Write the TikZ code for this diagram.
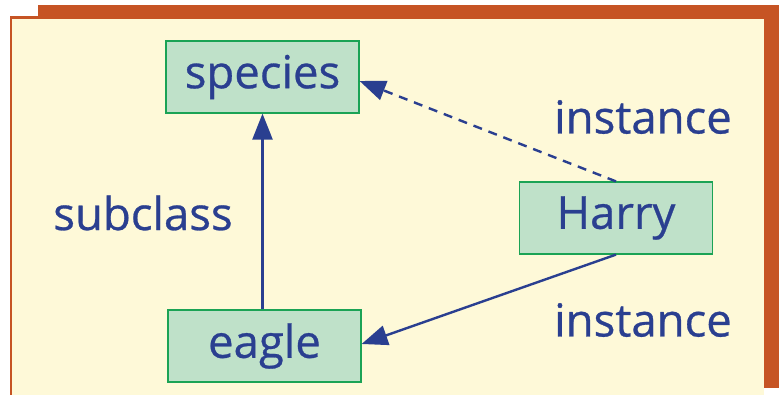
\documentclass[tikz,border=0pt]{standalone}
\usepackage{fontspec}
\setmainfont{Open Sans}
\newfontfamily\labelfont[FakeBold=0.6]{Open Sans}
\usetikzlibrary{arrows.meta}
\definecolor{frame}{HTML}{C65424}
\definecolor{paper}{HTML}{FEF9D8}
\definecolor{boxfill}{HTML}{BFE1C9}
\definecolor{boxline}{HTML}{1BA355}
\definecolor{ink}{HTML}{2A3F90}
\tikzset{
  concept/.style={draw=boxline, line width=1.2pt, fill=boxfill, text=ink,
    minimum width=193pt, minimum height=72pt, inner sep=0pt, font=\labelfont\fontsize{45.5}{48}\selectfont},
  tag/.style={text=ink, inner sep=0pt, font=\labelfont\fontsize{45.5}{48}\selectfont},
  link/.style={draw=ink, line width=2.4pt, -{Triangle[length=26pt, width=20pt]}},
}
\begin{document}
\begin{tikzpicture}[x=1pt, y=-1pt]
  \useasboundingbox (0,0) rectangle (779,395);
  % orange shadow band and cream panel
  \fill[frame] (38,5) rectangle (779,388);
  \fill[frame] (9.5,16.5) rectangle (764,395);
  \fill[paper] (12,19) rectangle (764,395);
  % concepts
  \node[concept] (species) at (262.5,77) {species};
  \node[concept] (harry) at (616,218) {Harry};
  \node[concept] (eagle) at (264.5,346) {eagle};
  % relation labels
  \node[tag] (sub) at (143,213) {subclass};
  \node[tag] (inst1) at (643,117) {instance};
  \node[tag] (inst2) at (643,320) {instance};
  % relations
  \draw[link] (eagle.north -| species.south) -- (species.south);
  \draw[link, dashed, dash pattern=on 9pt off 7pt] (harry.north) -- ([yshift=-4pt]species.east);
  \draw[link] (harry.south) -- ([yshift=2pt]eagle.east);
\end{tikzpicture}
\end{document}
